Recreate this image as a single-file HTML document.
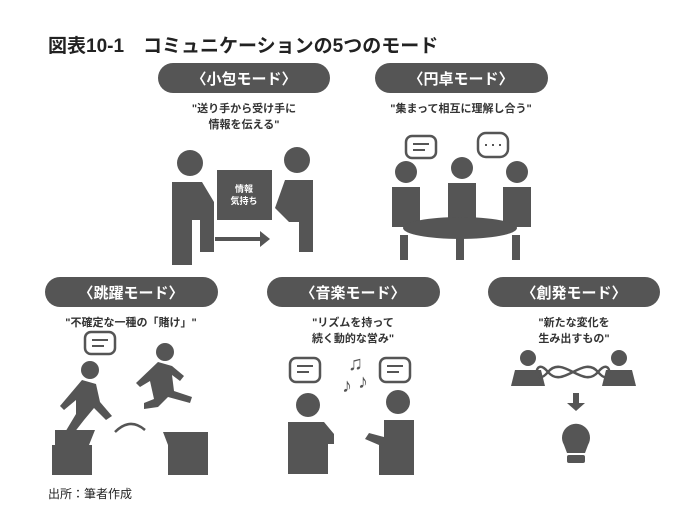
<!DOCTYPE html>
<html><head><meta charset="utf-8"><style>
body{margin:0;width:700px;height:521px;background:#fff;overflow:hidden;font-family:"Liberation Sans","Noto Sans CJK JP",sans-serif}
svg{position:absolute;left:0;top:0}
</style></head><body>
<svg width="700" height="521" viewBox="0 0 700 521" font-family="Liberation Sans, Noto Sans CJK JP, sans-serif">
<text x="48" y="52" font-size="19" font-weight="bold" fill="#222">図表10-1　コミュニケーションの5つのモード</text>
<g fill="#555">
<rect x="158" y="63" width="172" height="30" rx="15"/>
<rect x="375" y="63" width="173" height="30" rx="15"/>
<rect x="45" y="277" width="173" height="30" rx="15"/>
<rect x="267" y="277" width="173" height="30" rx="15"/>
<rect x="488" y="277" width="172" height="30" rx="15"/>
</g>
<g fill="#fff" font-size="15" font-weight="bold" text-anchor="middle">
<text x="244" y="84">〈小包モード〉</text>
<text x="461" y="84">〈円卓モード〉</text>
<text x="131" y="298">〈跳躍モード〉</text>
<text x="353" y="298">〈音楽モード〉</text>
<text x="574" y="298">〈創発モード〉</text>
</g>
<g fill="#333" font-size="11" font-weight="bold" text-anchor="middle">
<text x="244" y="112">"送り手から受け手に</text>
<text x="244" y="128">情報を伝える"</text>
<text x="461" y="112">"集まって相互に理解し合う"</text>
<text x="131" y="326">"不確定な一種の「賭け」"</text>
<text x="353" y="326">"リズムを持って</text>
<text x="353" y="342">続く動的な営み"</text>
<text x="574" y="326">"新たな変化を</text>
<text x="574" y="342">生み出すもの"</text>
</g>
<g fill="#555" stroke="none">
<circle cx="190" cy="163" r="13"/><path d="M172 182h30l12 20v50h-14v-32l-8 0v45h-20z"/>
<circle cx="297" cy="160" r="13"/><path d="M285 180h28v72h-14v-30l-10 0 -14-14z"/>
<rect x="217" y="170" width="55" height="50"/>
<path d="M215 237h45v-6l10 8-10 8v-6h-45z"/>
<circle cx="406" cy="172" r="11"/><path d="M392 187h28v40h-28z"/>
<circle cx="462" cy="168" r="11"/><path d="M448 183h28v38h-28z"/>
<circle cx="517" cy="172" r="11"/><path d="M503 187h28v40h-28z"/>
<ellipse cx="460" cy="228" rx="57" ry="11"/>
<rect x="400" y="235" width="8" height="25"/><rect x="456" y="235" width="8" height="25"/><rect x="512" y="235" width="8" height="25"/>
<circle cx="90" cy="370" r="9"/><path d="M82 380l14 4 4 18 12 14-6 4-12-12-10 12-14 18-6-4 12-20 0-14-12 10-4-4z"/>
<circle cx="165" cy="352" r="9"/><path d="M158 362l14 4 12 10-4 5-8-6 2 16 18 6-2 6-22-6-10 10-14 2 0-6 10-4-4-18-10 6-4-4z"/>
<path d="M55 430h40l-6 15h3v30h-40v-30h3z"/>
<path d="M163 432h45v43h-40v-30z"/>
<circle cx="308" cy="405" r="12"/><path d="M290 422h34l10 12v10h-6v30h-40v-52z"/>
<circle cx="398" cy="402" r="12"/><path d="M384 420h30v55h-35v-30l-14-6 4-6 15 4z"/>
<text x="348" y="370" font-size="20">♫</text><text x="342" y="392" font-size="20">♪</text><text x="358" y="388" font-size="20">♪</text>
<circle cx="528" cy="358" r="8"/><path d="M515 370h26l4 16h-34z"/>
<circle cx="619" cy="358" r="8"/><path d="M606 370h26l4 16h-34z"/>
<path d="M573 393h6v10h6l-9 8-9-8h6z"/>
<path d="M564 445a14 14 0 1 1 24 0l-3 8h-18z"/><rect x="567" y="455" width="18" height="8" rx="2"/>
</g>
<g fill="#fff" font-size="9" font-weight="bold" text-anchor="middle">
<text x="244" y="192">情報</text><text x="244" y="204">気持ち</text>
</g>
<g fill="none" stroke="#555" stroke-width="2.5">
<path d="M548 372c15-18 35 18 50 0c15-18 15 18 0 0c-15-18-35 18-50 0c-15-18-15 18 0 0z"/>
<path d="M115 432q15-15 30-2"/>
<rect x="406" y="136" width="30" height="22" rx="6"/><rect x="478" y="133" width="30" height="24" rx="8"/>
<rect x="85" y="332" width="30" height="22" rx="6"/>
<rect x="290" y="358" width="30" height="24" rx="6"/><rect x="380" y="358" width="30" height="24" rx="6"/>
</g>
<g stroke="#555" stroke-width="2">
<path d="M413 144h16M413 150h12M92 340h16M92 346h12M297 366h16M297 372h12M387 366h16M387 372h12"/>
<path d="M485 145h2M492 145h2M499 145h2"/>
</g>
<text x="48" y="498" font-size="12" fill="#222">出所：筆者作成</text>
</svg>
</body></html>
